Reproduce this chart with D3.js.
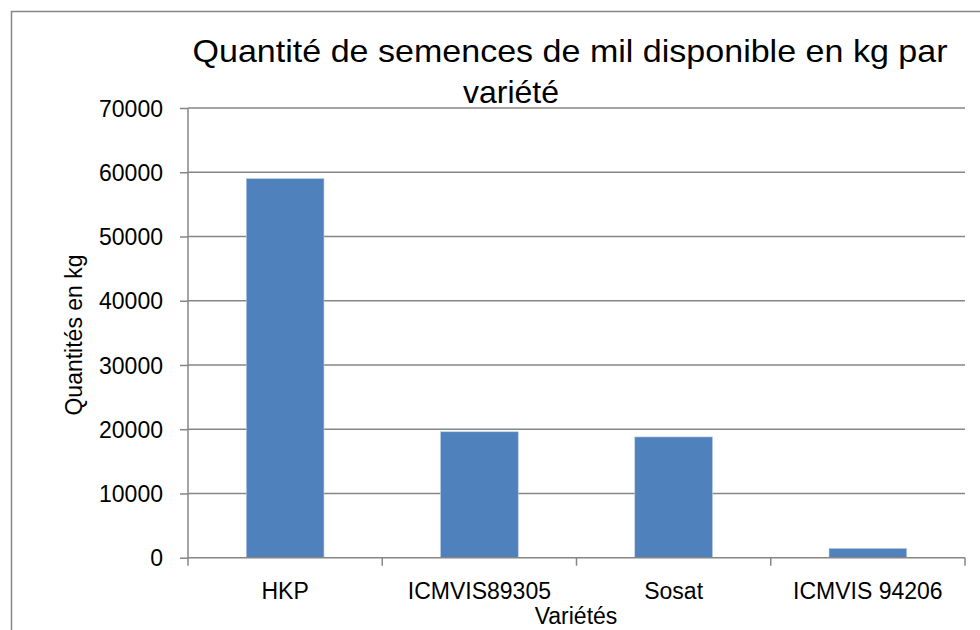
<!DOCTYPE html>
<html>
<head>
<meta charset="utf-8">
<script src="https://cdn.jsdelivr.net/npm/d3@7"></script>
<style>
  body { margin: 0; background: #fff; }
  text { font-family: "Liberation Sans", Arial, sans-serif; fill: #000; }
</style>
</head>
<body>
<svg id="chart" width="980" height="630"></svg>
<script>
// data
var varietes = ["HKP", "ICMVIS89305", "Sosat", "ICMVIS 94206"];
var quantites = [59000, 19600, 18800, 1450];
var yTicks = [0, 10000, 20000, 30000, 40000, 50000, 60000, 70000];
var titleLines = ["Quantité de semences de mil disponible en kg par", "variété"];

var svg = d3.select("#chart"),
    plotL = 188, plotR = 965, plotT = 108, plotB = 557.7,
    grey = "#868686";

// outer frame
svg.append("rect")
    .attr("x", 11.5).attr("y", 11.5)
    .attr("width", 980).attr("height", 640)
    .attr("fill", "none").attr("stroke", grey).attr("stroke-width", 1.5);

var x = d3.scaleBand().domain(varietes).range([plotL, plotR]).paddingInner(0.6).paddingOuter(0.3);
var xb = d3.scaleBand().domain(varietes).range([plotL, plotR]); // category slots, for the ticks
var y = d3.scaleLinear().domain([0, 70000]).range([plotB, plotT]);

// gridlines
svg.append("g").selectAll("line").data(yTicks.slice(1)).enter().append("line")
    .attr("x1", plotL).attr("x2", plotR)
    .attr("y1", d => y(d)).attr("y2", d => y(d))
    .attr("stroke", grey).attr("stroke-width", 1.5);

// bars
svg.append("g").selectAll("rect").data(quantites).enter().append("rect")
    .attr("x", (d, i) => x(varietes[i]))
    .attr("width", x.bandwidth())
    .attr("y", d => y(d))
    .attr("height", d => plotB - y(d))
    .attr("fill", "#4F81BD")
    .attr("stroke", "#B9CDE5").attr("stroke-width", 0.6);

// y axis
var yAxis = svg.append("g").attr("transform", "translate(" + plotL + ",0)")
    .call(d3.axisLeft(y).tickValues(yTicks).tickFormat(d3.format("d")).tickSize(8).tickPadding(17));
yAxis.select(".domain").attr("stroke", grey).attr("stroke-width", 1.5).attr("d", "M0," + plotT + "V" + plotB);
yAxis.selectAll(".tick line").attr("stroke", grey).attr("stroke-width", 1.5);
yAxis.selectAll(".tick text").attr("font-size", 23).attr("font-family", "Liberation Sans").attr("fill", "#000").attr("dy", "0.35em");

// x axis
var xAxis = svg.append("g").attr("transform", "translate(0," + plotB + ")")
    .call(d3.axisBottom(xb).tickSize(0).tickPadding(25));
xAxis.select(".domain").attr("stroke", grey).attr("stroke-width", 1.5).attr("d", "M" + plotL + ",0H" + plotR);
xAxis.selectAll(".tick text").attr("font-size", 23).attr("font-family", "Liberation Sans").attr("fill", "#000").attr("dy", "0.7em");
xAxis.append("g").selectAll("line").data(varietes.map(d => xb(d)).concat([plotR])).enter().append("line")
    .attr("x1", d => d).attr("x2", d => d).attr("y1", 0).attr("y2", 8)
    .attr("stroke", grey).attr("stroke-width", 1.5);

// axis titles
svg.append("text").attr("x", 576).attr("y", 624).attr("text-anchor", "middle")
    .attr("font-size", 23).text("Variétés");
svg.append("text").attr("transform", "translate(82,335) rotate(-90)").attr("text-anchor", "middle")
    .attr("font-size", 23).text("Quantités en kg");

// title
svg.append("text").attr("x", 570).attr("y", 62).attr("text-anchor", "middle")
    .attr("font-size", 32).attr("textLength", 755).attr("lengthAdjust", "spacingAndGlyphs")
    .text(titleLines[0]);
svg.append("text").attr("x", 511).attr("y", 103).attr("text-anchor", "middle")
    .attr("font-size", 32).text(titleLines[1]);
</script>
</body>
</html>
